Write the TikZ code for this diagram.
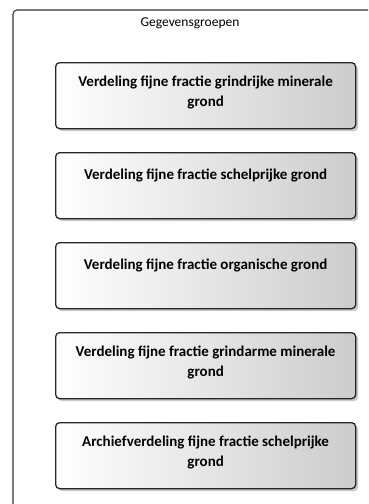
\documentclass[tikz,border=0pt]{standalone}
\usepackage{fontspec}
\setmainfont{Carlito}
\usetikzlibrary{shadows}
\begin{document}
\begin{tikzpicture}[x=1pt,y=-1pt,
  frame/.style={draw=black!80, line width=1.1pt, rounded corners=4pt},
  groupbox/.style={draw=black!85, line width=1.3pt, rounded corners=4pt,
    left color=white, right color=black!20, minimum width=300pt, minimum height=66pt,
    inner sep=0pt, anchor=north west,
    drop shadow={shadow xshift=2.5pt, shadow yshift=-2.5pt, opacity=0.35, fill=black!60}},
  grouptext/.style={font=\bfseries\fontsize{15}{19.5}\selectfont,
    align=center, anchor=north, inner sep=0pt},
  titletext/.style={font=\fontsize{13.5}{16}\selectfont, inner sep=0pt}]
\useasboundingbox (0,0) rectangle (368,504);
\clip (0,0) rectangle (368,504);
\fill[white] (0,0) rectangle (368,504);
% outer container, running off the right and bottom edges
\draw[frame] (13,10) rectangle (390,530);
\node[titletext] (title) at (190,23) {Gegevensgroepen};
% the five data groups
\node[groupbox] (g1) at (55,62) {};
\node[groupbox] (g2) at (55,152) {};
\node[groupbox] (g3) at (55,242) {};
\node[groupbox] (g4) at (55,332) {};
\node[groupbox] (g5) at (55,422) {};
\node[grouptext] (t1) at ([yshift=-14pt]g1.north) {Verdeling fijne fractie grindrijke minerale\\grond};
\node[grouptext] (t2) at ([yshift=-17pt]g2.north) {Verdeling fijne fractie schelprijke grond};
\node[grouptext] (t3) at ([yshift=-17pt]g3.north) {Verdeling fijne fractie organische grond};
\node[grouptext] (t4) at ([yshift=-14pt]g4.north) {Verdeling fijne fractie grindarme minerale\\grond};
\node[grouptext] (t5) at ([yshift=-14pt]g5.north) {Archiefverdeling fijne fractie schelprijke\\grond};
\end{tikzpicture}
\end{document}
